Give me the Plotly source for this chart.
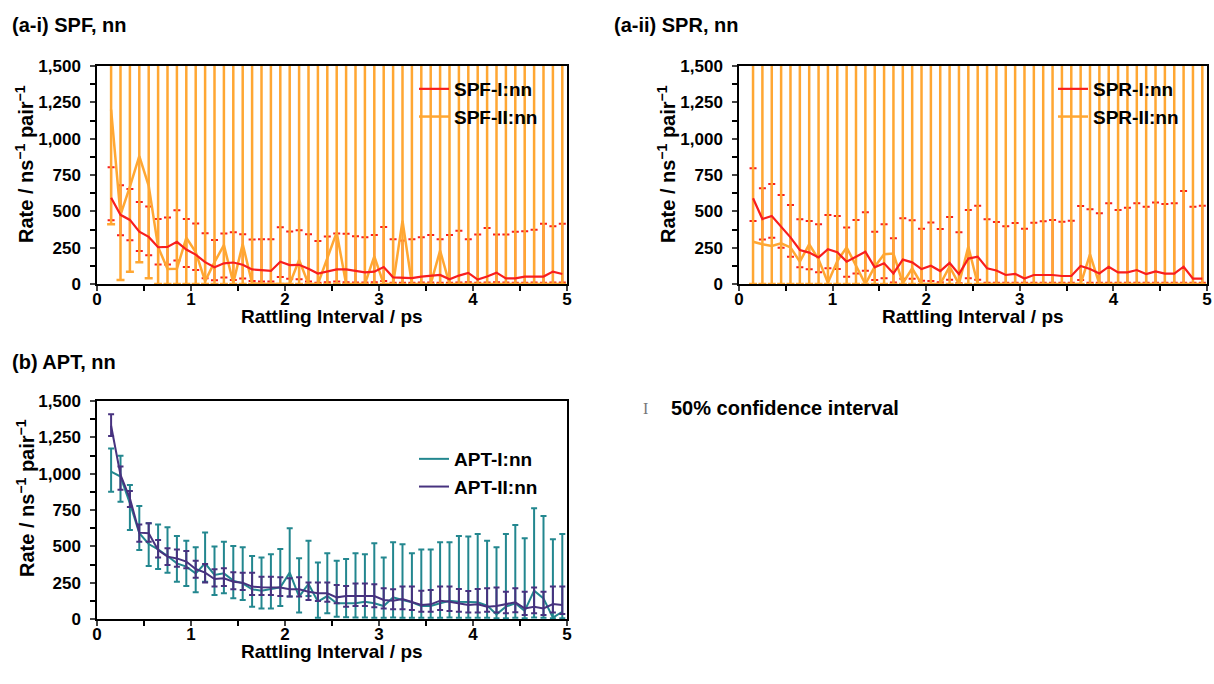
import numpy as np
import plotly.graph_objects as go

# ---------------- data ----------------
interval = [0.15, 0.25, 0.35, 0.45, 0.55, 0.65, 0.75, 0.85, 0.95, 1.05,
            1.15, 1.25, 1.35, 1.45, 1.55, 1.65, 1.75, 1.85, 1.95, 2.05,
            2.15, 2.25, 2.35, 2.45, 2.55, 2.65, 2.75, 2.85, 2.95, 3.05,
            3.15, 3.25, 3.35, 3.45, 3.55, 3.65, 3.75, 3.85, 3.95, 4.05,
            4.15, 4.25, 4.35, 4.45, 4.55, 4.65, 4.75, 4.85, 4.95]

spf1 = [594, 476, 441, 360, 324, 253, 255, 290, 237, 202,
        150, 115, 142, 148, 133, 100, 95, 90, 153, 130,
        132, 105, 72, 88, 101, 100, 88, 80, 85, 117,
        46, 41, 41, 51, 58, 62, 32, 58, 76, 30,
        51, 78, 39, 39, 51, 51, 51, 85, 69]
spf1_hi = [803, 680, 653, 565, 533, 448, 458, 508, 448, 416,
           350, 303, 347, 356, 342, 307, 308, 308, 390, 361,
           370, 342, 296, 326, 347, 345, 329, 322, 337, 393,
           308, 299, 308, 322, 338, 308, 338, 366, 308, 340,
           386, 340, 340, 359, 363, 373, 414, 398, 414]
spf1_lo = [438, 335, 301, 227, 198, 135, 135, 161, 117, 96,
           40, 25, 45, 28, 37, 20, 18, 18, 48, 36,
           33, 18, 8, 12, 18, 12, 10, 10, 12, 20,
           8, 8, 8, 10, 10, 8, 8, 10, 12, 8,
           10, 12, 10, 8, 8, 10, 8, 10, 10]

spf2 = [1200, 475, 670, 880, 675, 255, 103, 105, 318, 220,
        20, 150, 268, 8, 275, 5, 0, 0, 0, 0,
        165, 0, 0, 180, 355, 0, 0, 0, 190, 0,
        0, 435, 0, 0, 0, 230, 0, 0, 0, 0,
        0, 0, 0, 0, 0, 0, 0, 0, 0]
spf2_hi = [3000, 3000, 3000, 3000, 3000, 3000, 3000, 3000, 3000, 3000,
           3000, 3000, 3000, 3000, 3000, 3000, 3000, 3000, 3000, 3000,
           3000, 3000, 3000, 3000, 3000, 3000, 3000, 3000, 3000, 3000,
           3000, 3000, 3000, 3000, 3000, 3000, 3000, 3000, 3000, 3000,
           3000, 3000, 3000, 3000, 3000, 3000, 3000, 3000, 3000]
spf2_lo = [411, 28, 85, 149, 39, 0, 0, 0, 0, 0,
           0, 0, 0, 0, 0, 0, 0, 0, 0, 0,
           0, 0, 0, 0, 0, 0, 0, 0, 0, 0,
           0, 0, 0, 0, 0, 0, 0, 0, 0, 0,
           0, 0, 0, 0, 0, 0, 0, 0, 0]

spr1 = [590, 447, 468, 395, 321, 234, 216, 183, 239, 218,
        154, 188, 222, 115, 143, 73, 168, 149, 103, 126,
        89, 145, 68, 175, 188, 108, 93, 62, 70, 38,
        62, 62, 62, 55, 55, 124, 103, 73, 119, 80,
        80, 96, 69, 87, 71, 71, 119, 37, 37]
spr1_hi = [796, 658, 688, 612, 544, 445, 434, 411, 475, 468,
           388, 440, 493, 360, 411, 314, 452, 438, 381, 424,
           378, 461, 356, 509, 539, 445, 427, 397, 420, 381,
           422, 431, 440, 429, 436, 537, 514, 486, 555, 509,
           525, 555, 532, 560, 551, 555, 640, 532, 539]
spr1_lo = [434, 307, 319, 250, 188, 115, 101, 80, 108, 103,
           50, 73, 92, 28, 39, 11, 36, 36, 23, 20,
           12, 30, 5, 40, 30, 8, 8, 8, 8, 8,
           8, 8, 8, 8, 8, 28, 8, 8, 8, 8,
           8, 8, 8, 8, 8, 8, 8, 8, 8]

spr2 = [291, 273, 262, 280, 252, 154, 273, 170, 9, 158,
        252, 124, 0, 119, 205, 210, 5, 108, 0, 0,
        0, 120, 0, 257, 0, 0, 0, 0, 0, 0,
        0, 0, 0, 0, 0, 0, 204, 0, 0, 0,
        0, 0, 0, 0, 0, 0, 0, 0, 0]
spr2_hi = spf2_hi
spr2_lo = [0, 0, 0, 0, 0, 0, 0, 0, 0, 0,
           0, 0, 0, 0, 0, 0, 0, 0, 0, 0,
           0, 0, 0, 0, 0, 0, 0, 0, 0, 0,
           0, 0, 0, 0, 0, 0, 0, 0, 0, 0,
           0, 0, 0, 0, 0, 0, 0, 0, 0]

apt1 = [1014, 980, 796, 590, 516, 479, 434, 383, 360, 314,
        383, 303, 314, 264, 245, 204, 195, 204, 218, 319,
        154, 241, 119, 158, 108, 108, 108, 119, 108, 89,
        149, 131, 115, 89, 89, 108, 126, 119, 115, 115,
        92, 32, 85, 108, 55, 195, 142, 9, 50]
apt1_hi = [1174, 1124, 922, 778, 658, 651, 631, 571, 539, 493,
           596, 498, 532, 502, 493, 434, 424, 445, 482, 624,
           418, 539, 388, 452, 401, 413, 452, 445, 521, 424,
           528, 514, 452, 479, 479, 528, 528, 571, 567, 585,
           539, 493, 585, 647, 555, 762, 709, 548, 585]
apt1_lo = [876, 807, 612, 475, 365, 344, 319, 257, 227, 184,
           257, 165, 177, 142, 131, 85, 73, 73, 89, 154,
           44, 158, 9, 39, 16, 12, 10, 10, 8, 8,
           10, 8, 8, 8, 8, 8, 10, 8, 8, 8,
           8, 5, 5, 8, 5, 10, 8, 5, 5]

apt2 = [1330, 991, 830, 594, 590, 475, 429, 417, 395, 344,
        319, 275, 280, 257, 250, 223, 218, 216, 216, 204,
        204, 188, 177, 177, 149, 158, 158, 154, 158, 131,
        126, 138, 115, 96, 101, 126, 119, 108, 96, 101,
        85, 89, 101, 115, 73, 85, 73, 103, 96]
apt2_hi = [1408, 1050, 880, 651, 658, 544, 486, 479, 468, 401,
           378, 342, 349, 321, 319, 319, 291, 291, 287, 280,
           287, 252, 252, 252, 234, 227, 245, 245, 239, 211,
           204, 223, 223, 195, 200, 223, 223, 206, 193, 206,
           211, 216, 188, 211, 188, 216, 188, 223, 223]
apt2_lo = [1259, 890, 770, 532, 532, 424, 372, 360, 349, 284,
           252, 223, 227, 204, 200, 165, 165, 165, 158, 154,
           154, 131, 124, 119, 108, 85, 89, 89, 80, 73,
           67, 67, 62, 50, 50, 62, 55, 50, 44, 44,
           50, 44, 39, 46, 28, 39, 28, 44, 34]

x_ticks = [0, 1, 2, 3, 4, 5]
y_ticks = [0, 250, 500, 750, 1000, 1250, 1500]

# ---------------- styling ----------------
RED = "#F81E1E"
ORANGE = "#FFA733"
TEAL = "#23878F"
PURPLE = "#47327F"
FONT = "Liberation Sans"
W, H = 1214, 684


def err(vals, hi, lo):
    v = np.array(vals, float)
    return dict(type="data", symmetric=False,
                array=(np.array(hi, float) - v).tolist(),
                arrayminus=(v - np.array(lo, float)).tolist())


fig = go.Figure()


def err_trace(xa, ya, vals, hi, lo, color, thick, capw):
    e = err(vals, hi, lo)
    e.update(color=color, thickness=thick, width=capw)
    fig.add_trace(go.Scatter(x=interval, y=vals, mode="markers",
                             marker=dict(size=1, color="rgba(0,0,0,0)"),
                             error_y=e, showlegend=False, hoverinfo="skip",
                             xaxis=xa, yaxis=ya))


def line_trace(xa, ya, vals, color, name, legend, rank, width=2):
    fig.add_trace(go.Scatter(x=interval, y=vals, mode="lines", name=name,
                             line=dict(color=color, width=width),
                             xaxis=xa, yaxis=ya, legend=legend, legendrank=rank))


# panel a-i
err_trace("x", "y", spf1, spf1_hi, spf1_lo, RED, 2, 3.5)
err_trace("x", "y", spf2, spf2_hi, spf2_lo, ORANGE, 2.5, 4)
line_trace("x", "y", spf2, ORANGE, "SPF-II:nn", "legend", 2, 2.5)
line_trace("x", "y", spf1, RED, "SPF-I:nn", "legend", 1, 2.2)

# panel a-ii
err_trace("x2", "y2", spr1, spr1_hi, spr1_lo, RED, 2, 3.5)
err_trace("x2", "y2", spr2, spr2_hi, spr2_lo, ORANGE, 2.5, 4)
line_trace("x2", "y2", spr2, ORANGE, "SPR-II:nn", "legend2", 2, 2.5)
line_trace("x2", "y2", spr1, RED, "SPR-I:nn", "legend2", 1, 2.2)

# panel b
for vals, hi, lo, col, nm, rk in [(apt1, apt1_hi, apt1_lo, TEAL, "APT-I:nn", 1),
                                  (apt2, apt2_hi, apt2_lo, PURPLE, "APT-II:nn", 2)]:
    e = err(vals, hi, lo)
    e.update(color=col, thickness=2, width=3)
    fig.add_trace(go.Scatter(x=interval, y=vals, mode="lines", name=nm,
                             line=dict(color=col, width=2), error_y=e,
                             xaxis="x3", yaxis="y3", legend="legend3", legendrank=rk))


# ---------------- axes ----------------
def px_x(p):
    return p / W


def px_y(p):
    return 1 - p / H


tickfont = dict(family=FONT, size=17, color="black", weight="bold")

common_x = dict(range=[0, 5], tickvals=x_ticks, ticks="outside", ticklen=5, tickwidth=1.5,
                showline=True, linecolor="black", linewidth=1.5, mirror=True,
                showgrid=False, zeroline=False, tickfont=tickfont, automargin=False,
                ticklabelstandoff=-6,
                minor=dict(dtick=0.5, ticks="outside", ticklen=5, tickwidth=1.5, tickcolor="black"))
common_y = dict(range=[0, 1500], tickvals=y_ticks, tickformat=",d", ticks="outside", ticklen=5,
                tickwidth=1.5, showline=True, linecolor="black", linewidth=1.5, mirror=True,
                showgrid=False, zeroline=False, tickfont=tickfont, automargin=False,
                ticklabelstandoff=6,
                minor=dict(dtick=125, ticks="outside", ticklen=5, tickwidth=1.5, tickcolor="black"))

fig.update_layout(
    width=W, height=H, margin=dict(l=0, r=0, t=0, b=0, autoexpand=False),
    paper_bgcolor="white", plot_bgcolor="white",
    xaxis=dict(common_x, domain=[px_x(97), px_x(567)], anchor="y"),
    yaxis=dict(common_y, domain=[px_y(284), px_y(66)], anchor="x"),
    xaxis2=dict(common_x, domain=[px_x(739), px_x(1207)], anchor="y2"),
    yaxis2=dict(common_y, domain=[px_y(284), px_y(66)], anchor="x2"),
    xaxis3=dict(common_x, domain=[px_x(97), px_x(567)], anchor="y3"),
    yaxis3=dict(common_y, domain=[px_y(619), px_y(401)], anchor="x3"),
)

legfont = dict(family=FONT, size=19, color="black", weight="bold")
for key, lx, ly in [("legend", 414, 70), ("legend2", 1053, 70), ("legend3", 414, 440)]:
    fig.update_layout({key: dict(x=px_x(lx), y=px_y(ly), xanchor="left", yanchor="top",
                                 bgcolor="rgba(0,0,0,0)", borderwidth=0, font=legfont,
                                 tracegroupgap=0, itemwidth=30)})


def note(text, x, y, font, xanchor="left", angle=0):
    fig.add_annotation(text=text, x=px_x(x), y=px_y(y), xref="paper", yref="paper",
                       xanchor=xanchor, yanchor="middle", showarrow=False,
                       textangle=angle, font=font)


panel_font = dict(family=FONT, size=20, color="black", weight="bold")
note("(a-i) SPF, nn", 10, 25, panel_font)
note("(a-ii) SPR, nn", 612, 25, panel_font)
note("(b) APT, nn", 10, 362, panel_font)

xtitle_font = dict(family=FONT, size=19, color="black", weight="bold")
ytitle_font = dict(family=FONT, size=20, color="black", weight="bold")
for cx, cy in [(332, 316), (973, 316), (332, 651)]:
    note("Rattling Interval / ps", cx, cy, xtitle_font, xanchor="center")
for cx, cy in [(25, 164), (667, 164), (25, 498)]:
    note("Rate / ns<sup>−1</sup> pair<sup>−1</sup>", cx, cy, ytitle_font, xanchor="center", angle=-90)

note("I", 645, 408, dict(family="Liberation Serif", size=16, color="#777777"), xanchor="center")
note("50% confidence interval", 669, 408, dict(family=FONT, size=20, color="black", weight="bold"))

fig.write_html("out.html")
